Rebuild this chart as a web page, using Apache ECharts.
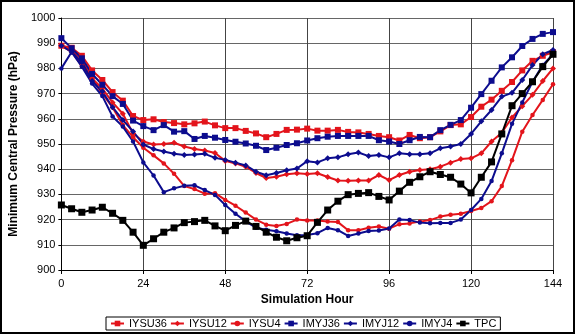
<!DOCTYPE html>
<html>
<head>
<meta charset="utf-8">
<script src="https://cdn.jsdelivr.net/npm/echarts@6/dist/echarts.min.js"></script>
<style>
  html, body { margin: 0; padding: 0; background: #fff; }
  #chart { width: 576px; height: 335px; }
</style>
</head>
<body>
<div id="chart"></div>
<script>
// simulation hours (every 3 h)
var hours = [0, 3, 6, 9, 12, 15, 18, 21, 24, 27, 30, 33, 36, 39, 42, 45, 48, 51, 54, 57, 60, 63, 66, 69, 72,
  75, 78, 81, 84, 87, 90, 93, 96, 99, 102, 105, 108, 111, 114, 117, 120, 123, 126, 129, 132, 135, 138, 141, 144];
var hourTicks = [0, 24, 48, 72, 96, 120, 144];

// minimum central pressure (hPa)
var iysu36 = [989, 988.2, 985, 979.2, 975.4, 970.6, 967.2, 961.1, 959.5, 959.8, 958.7, 958.3, 957.8, 958.2, 958.9, 957.4,
  956.3, 956.3, 955.2, 954.2, 952.7, 954, 955.6, 955.7, 956.1, 955.3, 955.3, 955.6, 954.8, 954.6, 954, 953.2,
  952.7, 951.4, 953.6, 952.3, 952.7, 955, 957.5, 957.8, 960.7, 964.8, 967.6, 971.1, 974.6, 979.2, 983, 985, 986.4];
var iysu12 = [989, 987, 983.6, 976, 972, 966.5, 962, 954.2, 951, 949.8, 950, 950.5, 949, 948, 947.4, 946.4,
  943.3, 942.3, 941, 938.5, 936.5, 937, 938, 938.4, 938.1, 938.4, 936.9, 935.5, 935.4, 935.5, 935.5, 937.7,
  935.7, 937.7, 939, 939.7, 940, 941, 942.6, 944, 944.3, 946.3, 951, 954.5, 960.5, 965, 969.5, 975, 980];
var iysu4 = [989, 986.5, 981, 975.7, 970, 964.5, 957.5, 952.7, 948.5, 945.5, 942.3, 938.2, 933.3, 932.1, 930.3, 930.5,
  927.8, 925.5, 922.8, 920, 918, 917.5, 918.3, 920, 919.6, 919.6, 919.2, 919, 915.8, 915.8, 916.8, 917.3,
  916.4, 918.2, 918.5, 919.2, 919.8, 921.2, 921.9, 922.3, 923.4, 924.6, 927.3, 933.3, 943.6, 954.9, 961.5, 967.5, 973.7];
var imyj36 = [992, 988, 984, 977.8, 973.5, 969, 965.9, 959.3, 957.1, 955.5, 957.5, 954.9, 955.1, 952, 953.2, 952.5,
  951.6, 950.9, 950.2, 949.3, 947.6, 948.5, 949.6, 950.3, 951.4, 952.3, 952.9, 953.2, 953.2, 953.2, 953.2, 951.5,
  951, 950, 951.5, 952.8, 952.7, 955.5, 957.6, 959.5, 964.4, 969.8, 975.1, 980.4, 984.4, 988.9, 991.7, 993.7, 994.4];
var imyj12 = [989, 986.5, 982.5, 975, 970.8, 964.6, 959.5, 955, 949.8, 948, 947, 946.1, 945.6, 945.8, 946.1, 944.5,
  943.7, 942.6, 941.5, 939, 937.6, 938.5, 939.6, 940.3, 943.2, 942.7, 944.3, 944.7, 945.9, 946.6, 945.2, 945.6,
  944.7, 946.3, 945.9, 945.9, 946.3, 948.3, 949, 950, 954, 959, 963.5, 968.8, 970.3, 975.4, 981.3, 985.6, 987.3];
var imyj4 = [980, 986.5, 980.7, 974, 969, 960.9, 956.9, 951, 942.7, 937.5, 930.9, 932.4, 933.4, 933.6, 931.7, 929.8,
  925.8, 922.3, 919.3, 916.8, 916, 915.4, 914.5, 913.8, 913.9, 914.6, 916.7, 915.8, 913.5, 914.5, 915.5, 915.7,
  916.5, 920, 919.8, 918.8, 918.6, 918.7, 918.7, 920, 923.8, 928.2, 935.3, 946.3, 958, 966.5, 974.7, 981.3, 985.6];
var tpc = [925.8, 924.3, 922.9, 923.8, 924.9, 922.5, 919.7, 915, 909.8, 912.4, 915, 916.7, 918.8, 919.2, 919.7, 917.5,
  915.6, 917.7, 919.4, 917.3, 915, 913, 911.6, 912.8, 913.6, 918.9, 923.8, 927.3, 929.9, 930.4, 930.7, 929.2,
  927.8, 931.3, 934.8, 937, 939, 937.9, 936.8, 934.1, 930.6, 936.8, 942.9, 954, 965.2, 970, 974.7, 980.7, 985.6];

var RED = '#e3141b';
var BLUE = '#0c0c8e';
var BLACK = '#000000';

function pairs(vals) {
  return hours.map(function (h, i) { return [h, vals[i]]; });
}

function line(name, vals, color, symbol, size) {
  return {
    name: name,
    type: 'line',
    data: pairs(vals),
    symbol: symbol,
    symbolSize: size,
    showAllSymbol: true,
    lineStyle: { color: color, width: 2 },
    itemStyle: { color: color },
    emphasis: { disabled: true },
    animation: false
  };
}

var chart = echarts.init(document.getElementById('chart'));

chart.setOption({
  backgroundColor: '#fff',
  textStyle: { fontFamily: 'Liberation Sans, Arial, sans-serif' },
  graphic: [{
    type: 'rect',
    shape: { x: 1, y: 1, width: 573, height: 332 },
    style: { fill: 'none', stroke: '#000', lineWidth: 2 },
    silent: true
  }],
  grid: { left: 60, right: 23, top: 18, bottom: 65 },
  legend: {
    left: 106,
    top: 317,
    orient: 'horizontal',
    itemWidth: 13,
    itemHeight: 7,
    itemGap: 3,
    padding: [1, 4],
    borderColor: '#000',
    borderWidth: 1,
    textStyle: { fontSize: 11, color: '#000' },
    data: ['IYSU36', 'IYSU12', 'IYSU4', 'IMYJ36', 'IMYJ12', 'IMYJ4', 'TPC']
  },
  xAxis: {
    type: 'value',
    min: 0,
    max: 144,
    interval: 24,
    name: 'Simulation Hour',
    nameLocation: 'middle',
    nameGap: 22,
    nameTextStyle: { fontSize: 12, fontWeight: 'bold', color: '#000' },
    axisLine: { lineStyle: { color: '#000', width: 1 } },
    axisTick: { show: true, length: 4, lineStyle: { color: '#000' } },
    axisLabel: {
      fontSize: 11, color: '#000', margin: 8,
      formatter: function (v) { return hourTicks.indexOf(v) >= 0 ? String(v) : ''; }
    },
    splitLine: { show: true, lineStyle: { color: '#444', width: 1 } }
  },
  yAxis: {
    type: 'value',
    min: 900,
    max: 1000,
    interval: 10,
    name: 'Minimum Central Pressure (hPa)',
    nameLocation: 'middle',
    nameGap: 33,
    nameTextStyle: { fontSize: 12, fontWeight: 'bold', color: '#000' },
    axisLine: { show: true, lineStyle: { color: '#000', width: 1 } },
    axisTick: { show: true, length: 3, lineStyle: { color: '#000' } },
    axisLabel: {
      fontSize: 11, color: '#000', margin: 6,
      formatter: function (v) { return String(v); }
    },
    splitLine: { show: true, lineStyle: { color: '#666', width: 1 } }
  },
  series: [
    line('IYSU36', iysu36, RED, 'rect', 6),
    line('IYSU12', iysu12, RED, 'diamond', 6),
    line('IYSU4', iysu4, RED, 'circle', 4.5),
    line('IMYJ36', imyj36, BLUE, 'rect', 6),
    line('IMYJ12', imyj12, BLUE, 'diamond', 6),
    line('IMYJ4', imyj4, BLUE, 'circle', 4.5),
    line('TPC', tpc, BLACK, 'rect', 7)
  ]
});
</script>
</body>
</html>
